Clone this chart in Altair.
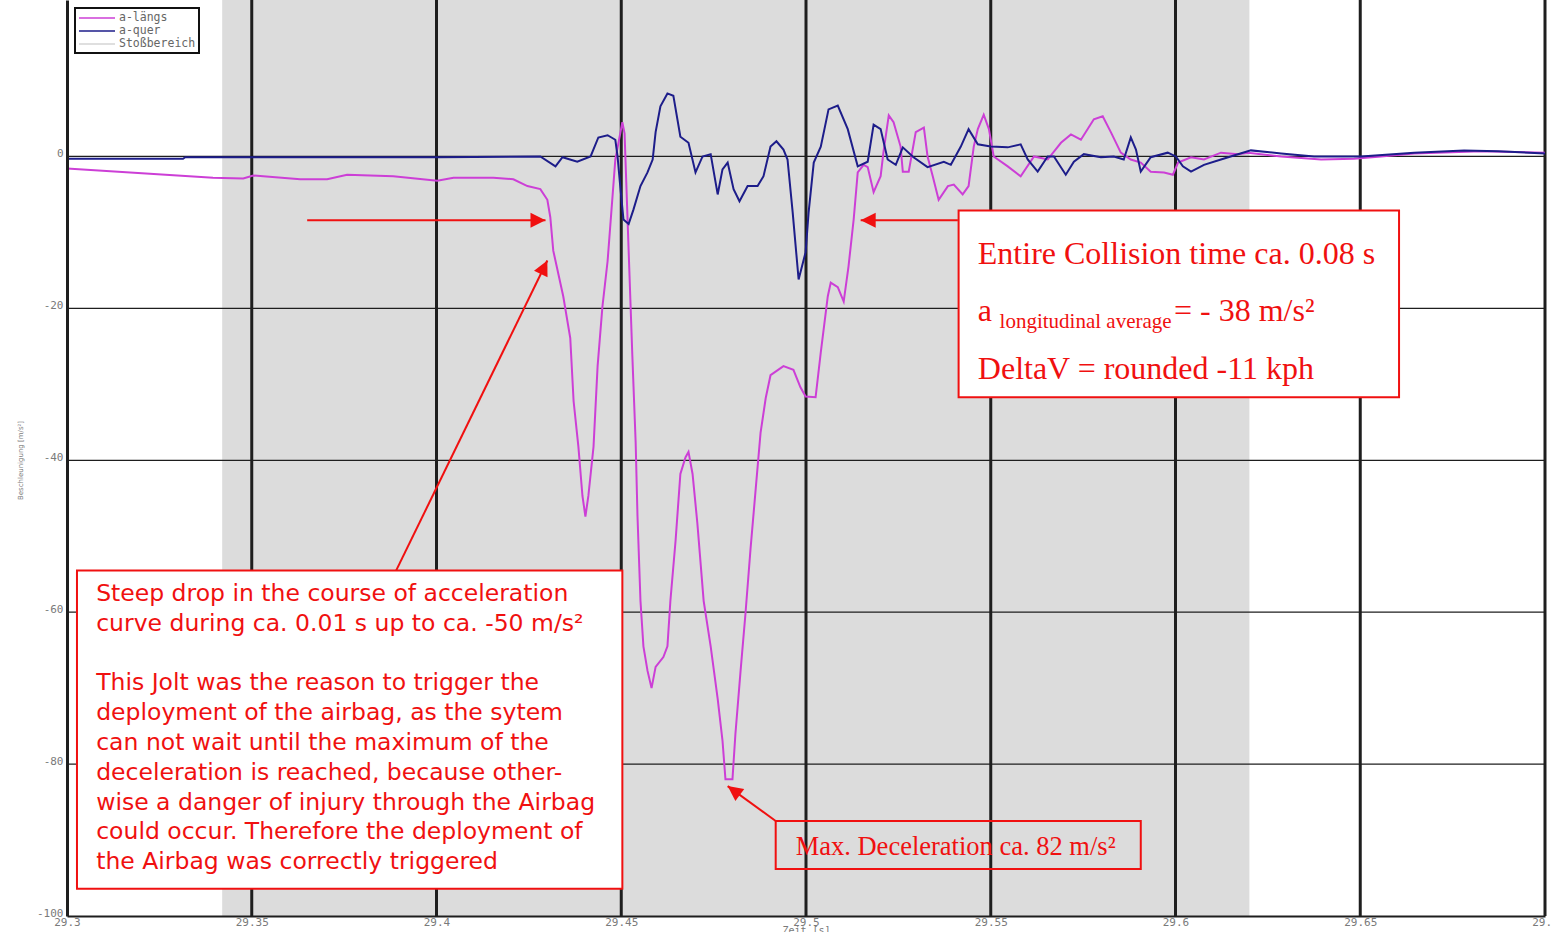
import math
import altair as alt
import pandas as pd

# ---------------------------------------------------------------- data
# a-längs: longitudinal acceleration [m/s²] over time [s]
t_laengs = [29.3000, 29.3395, 29.3477, 29.3504, 29.3631, 29.3704, 29.3758, 29.3883,
            29.4002, 29.4046, 29.4154, 29.4208, 29.4246, 29.4281, 29.4300, 29.4308,
            29.4316, 29.4343, 29.4362, 29.4371, 29.4384, 29.4395, 29.4403, 29.4411,
            29.4425, 29.4436, 29.4449, 29.4463, 29.4484, 29.4503, 29.4509, 29.4520,
            29.4530, 29.4539, 29.4544, 29.4552, 29.4560, 29.4571, 29.4582, 29.4593,
            29.4614, 29.4625, 29.4633, 29.4647, 29.4660, 29.4674, 29.4682, 29.4693,
            29.4706, 29.4723, 29.4742, 29.4761, 29.4774, 29.4782, 29.4801, 29.4809,
            29.4823, 29.4836, 29.4850, 29.4864, 29.4877, 29.4891, 29.4904, 29.4939,
            29.4966, 29.4985, 29.4999, 29.5026, 29.5040, 29.5059, 29.5067, 29.5086,
            29.5102, 29.5115, 29.5129, 29.5140, 29.5156, 29.5167, 29.5183, 29.5202,
            29.5210, 29.5224, 29.5237, 29.5256, 29.5262, 29.5278, 29.5297, 29.5319,
            29.5329, 29.5343, 29.5359, 29.5384, 29.5400, 29.5424, 29.5440, 29.5454,
            29.5465, 29.5481, 29.5495, 29.5508, 29.5546, 29.5581, 29.5617, 29.5654,
            29.5690, 29.5717, 29.5744, 29.5779, 29.5803, 29.5825, 29.5852, 29.5879,
            29.5906, 29.5933, 29.5969, 29.5993, 29.6007, 29.6042, 29.6077, 29.6123,
            29.6169, 29.6196, 29.6286, 29.6394, 29.6483, 29.6556, 29.6646, 29.6827,
            29.7000]
a_laengs = [-1.6, -2.8, -2.9, -2.5, -3.0, -3.0, -2.4, -2.6,
            -3.2, -2.8, -2.8, -3.0, -3.9, -4.3, -5.7, -8.0,
            -12.4, -18.4, -23.9, -32.2, -38.2, -44.7, -47.4, -44.7,
            -38.2, -27.6, -19.8, -13.8, -0.4, 4.5, 3.0, -12.4,
            -26.2, -37.7, -47.4, -58.5, -64.5, -67.7, -70.0, -67.2,
            -65.9, -64.5, -58.5, -50.6, -41.8, -39.6, -38.9, -41.8,
            -48.3, -58.5, -64.5, -71.4, -76.9, -82.0, -82.0, -76.0,
            -67.7, -60.3, -51.6, -43.7, -36.4, -31.8, -28.8, -27.6,
            -28.1, -30.4, -31.6, -31.7, -25.8, -18.4, -16.6, -17.2,
            -19.1, -14.5, -8.3, -2.1, -1.1, -1.4, -4.7, -2.6,
            0.7, 5.4, 4.5, 1.3, -2.0, -2.0, 3.2, 3.8,
            0.0, -2.6, -5.7, -3.9, -3.7, -5.0, -3.9, 1.3,
            3.6, 5.5, 3.6, 0.0, -1.3, -2.6, 0.0, -0.4,
            1.8, 2.9, 2.2, 4.9, 5.3, 3.2, 0.5, -0.4,
            -0.8, -2.0, -2.1, -2.4, -0.8, -0.1, -0.4, 0.5,
            0.3, 0.5, 0.0, -0.4, -0.3, 0.0, 0.4, 0.7,
            0.5]

# a-quer: lateral acceleration [m/s²] over time [s]
t_quer = [29.3000, 29.3314, 29.3320, 29.4002, 29.4281, 29.4322, 29.4341, 29.4381,
          29.4417, 29.4438, 29.4463, 29.4484, 29.4490, 29.4498, 29.4506, 29.4520,
          29.4533, 29.4552, 29.4571, 29.4585, 29.4593, 29.4606, 29.4625, 29.4641,
          29.4660, 29.4682, 29.4701, 29.4720, 29.4742, 29.4761, 29.4774, 29.4788,
          29.4804, 29.4820, 29.4842, 29.4869, 29.4885, 29.4904, 29.4920, 29.4939,
          29.4950, 29.4964, 29.4980, 29.4999, 29.5007, 29.5021, 29.5040, 29.5061,
          29.5086, 29.5113, 29.5140, 29.5167, 29.5183, 29.5202, 29.5221, 29.5243,
          29.5262, 29.5291, 29.5329, 29.5373, 29.5392, 29.5419, 29.5440, 29.5465,
          29.5500, 29.5546, 29.5581, 29.5600, 29.5627, 29.5654, 29.5671, 29.5703,
          29.5725, 29.5752, 29.5798, 29.5833, 29.5860, 29.5879, 29.5893, 29.5906,
          29.5933, 29.5979, 29.6001, 29.6020, 29.6042, 29.6077, 29.6123, 29.6169,
          29.6204, 29.6286, 29.6375, 29.6502, 29.6646, 29.6781, 29.6873, 29.7000]
a_quer = [-0.3, -0.3, -0.1, -0.1, 0.0, -1.3, -0.1, -0.7,
          0.0, 2.5, 2.8, 2.2, 0.0, -4.3, -8.3, -8.9,
          -7.0, -3.9, -2.1, -0.4, 3.2, 6.6, 8.3, 8.0,
          2.6, 1.8, -2.1, 0.0, 0.3, -5.0, -1.7, -0.8,
          -4.3, -5.9, -3.9, -3.9, -2.6, 1.3, 2.0, 0.9,
          -0.4, -7.4, -16.2, -12.6, -7.4, -0.8, 1.3, 6.2,
          6.7, 3.6, -1.3, -0.7, 4.2, 3.6, -0.4, -1.1,
          1.2, -0.1, -1.4, -0.7, -1.1, 1.3, 3.6, 1.6,
          1.3, 1.2, 1.6, -0.4, -2.0, 0.0, 0.0, -2.4,
          -0.7, 0.3, -0.1, 0.0, -0.4, 2.5, 0.9, -2.0,
          -0.1, 0.5, 0.0, -1.3, -2.0, -1.1, -0.4, 0.3,
          0.8, 0.4, 0.0, 0.0, 0.5, 0.8, 0.7, 0.4]

series_names = ["a-längs", "a-quer", "Stoßbereich"]
series_colors = ["#cc3fd6", "#1d1d8a", "#d4d4d4"]

# Stoßbereich (impact interval) [s]
impact_start = 29.342
impact_end = 29.62

x_ticks = [29.3, 29.35, 29.4, 29.45, 29.5, 29.55, 29.6, 29.65, 29.7]
y_ticks = [-100, -80, -60, -40, -20, 0]
x_domain = [29.3, 29.7]
y_domain = [-100, 20.6]

# Annotation boxes (time span, acceleration span)
box_t0 = [29.3027, 29.5413, 29.4918]
box_t1 = [29.4503, 29.6605, 29.5906]
box_v0 = [-54.5, -7.1, -87.5]
box_v1 = [-96.4, -31.7, -93.8]
box_filled = [True, True, False]

note_drop = ("Steep drop in the course of acceleration\n"
             "curve during ca. 0.01 s up to ca. -50 m/s²")
note_jolt = ("This Jolt was the reason to trigger the\n"
             "deployment of the airbag, as the sytem\n"
             "can not wait until the maximum of the\n"
             "deceleration is reached, because other-\n"
             "wise a danger of injury through the Airbag\n"
             "could occur. Therefore the deployment of\n"
             "the Airbag was correctly triggered")

# Arrows: tail (t, v) -> tip (t2, v2)
arrow_t = [29.3650, 29.5411, 29.3891, 29.4918]
arrow_v = [-8.4, -8.4, -54.5, -87.5]
arrow_t2 = [29.4295, 29.5148, 29.4300, 29.4788]
arrow_v2 = [-8.4, -8.4, -13.7, -82.9]

# ---------------------------------------------------------------- layout
W, H = 1478, 916
RED = "#f01010"
GRID = "#1e1e1e"
LABEL = "#7a7a7a"
SMALL_FONT = "DejaVu Sans Mono"

xs = alt.Scale(domain=x_domain, nice=False, zero=False)
ys = alt.Scale(domain=y_domain, nice=False, zero=False)

x_axis = alt.Axis(values=x_ticks, format="~g", grid=False, ticks=False,
                  labelFontSize=11, labelColor=LABEL, labelPadding=0,
                  labelFont=SMALL_FONT, labelFlush=False,
                  domainColor=GRID, domainWidth=2,
                  title="Zeit [s]", titleFontSize=10, titleColor=LABEL,
                  titleFont=SMALL_FONT, titleFontWeight="normal",
                  titlePadding=-2, zindex=1)
y_axis = alt.Axis(values=y_ticks, labelExpr="'' + datum.value", grid=False,
                  ticks=False, labelFontSize=11, labelColor=LABEL,
                  labelFont=SMALL_FONT, labelPadding=4, labelOffset=-3,
                  labelFlush=False, domainColor=GRID, domainWidth=3,
                  title="Beschleunigung [m/s²]", titleFontSize=7,
                  titleColor=LABEL, titleFont="DejaVu Sans",
                  titleFontWeight="normal", titleAngle=270,
                  titleBaseline="middle", titleAlign="center",
                  titleX=-47, titleY=460, zindex=1)


def X(field):
    return alt.X(field, type="quantitative", scale=xs, axis=x_axis)


def Y(field):
    return alt.Y(field, type="quantitative", scale=ys, axis=y_axis)


# impact interval band
band = alt.Chart(pd.DataFrame({"t": [impact_start], "t2": [impact_end],
                               "v": [y_domain[1]], "v2": [y_domain[0]]})).mark_rect(
    color="#dcdcdc").encode(x=X("t"), x2="t2", y=Y("v"), y2="v2")

# grid
vgrid = alt.Chart(pd.DataFrame({"t": x_ticks[1:]})).mark_rule(
    color=GRID, strokeWidth=3).encode(x=X("t"))
hgrid = alt.Chart(pd.DataFrame({"v": y_ticks[1:]})).mark_rule(
    color=GRID, strokeWidth=1.2).encode(y=Y("v"))

# acceleration curves
curves = pd.concat([
    pd.DataFrame({"t": t_laengs, "v": a_laengs, "series": "a-längs", "k": 0}),
    pd.DataFrame({"t": t_quer, "v": a_quer, "series": "a-quer", "k": 1}),
])
lines = alt.Chart(curves).mark_line(strokeWidth=2).encode(
    x=X("t"), y=Y("v"),
    color=alt.Color("series:N",
                    scale=alt.Scale(domain=series_names, range=series_colors),
                    legend=alt.Legend(title=None, orient="none", legendX=8,
                                      legendY=8, symbolType="M-3,0L3,0",
                                      symbolSize=144, symbolStrokeWidth=1.5,
                                      symbolOffset=12, labelOffset=15,
                                      labelFontSize=11.5, labelColor="#666",
                                      labelFont=SMALL_FONT,
                                      rowPadding=0, padding=3,
                                      strokeColor="#111", fillColor="white")),
    order="k:Q",
    detail="series:N",
)

# annotation boxes
boxes = pd.DataFrame({"t": box_t0, "t2": box_t1, "v": box_v0, "v2": box_v1,
                      "filled": box_filled})
box_fill = alt.Chart(boxes[boxes["filled"]]).mark_rect(
    fill="white", stroke=RED, strokeWidth=2).encode(
    x=X("t"), x2="t2", y=Y("v"), y2="v2")
box_open = alt.Chart(boxes[~boxes["filled"]]).mark_rect(
    fillOpacity=0, stroke=RED, strokeWidth=2).encode(
    x=X("t"), x2="t2", y=Y("v"), y2="v2")

# annotation texts
notes = pd.DataFrame({"t": [29.3079, 29.3079], "v": [-56.0, -67.8],
                      "s": [note_drop, note_jolt]})
notes_text = alt.Chart(notes).mark_text(
    align="left", baseline="top", font="DejaVu Sans", fontSize=23.5,
    lineHeight=29.8, lineBreak="\n", color=RED).encode(
    x=X("t"), y=Y("v"), text="s:N")

serif_big = pd.DataFrame({
    "t": [29.5465, 29.5465, 29.5996, 29.5465],
    "v": [-14.1, -21.6, -21.6, -29.3],
    "s": ["Entire Collision time ca. 0.08 s", "a", "= - 38 m/s²",
          "DeltaV = rounded -11 kph"],
})
summary_text = alt.Chart(serif_big).mark_text(
    align="left", baseline="alphabetic", font="Liberation Serif",
    fontSize=32, color=RED).encode(x=X("t"), y=Y("v"), text="s:N")
subscript_text = alt.Chart(pd.DataFrame({"t": [29.5524], "v": [-22.6],
                                         "s": ["longitudinal average"]})).mark_text(
    align="left", baseline="alphabetic", font="Liberation Serif",
    fontSize=21, color=RED).encode(x=X("t"), y=Y("v"), text="s:N")
max_text = alt.Chart(pd.DataFrame({"t": [29.4972], "v": [-92.0],
                                   "s": ["Max. Deceleration ca. 82 m/s²"]})).mark_text(
    align="left", baseline="alphabetic", font="Liberation Serif",
    fontSize=26.5, color=RED).encode(x=X("t"), y=Y("v"), text="s:N")

# arrows: shaft plus a head rotated along the shaft in screen space
kx = W / (x_domain[1] - x_domain[0])
ky = H / (y_domain[1] - y_domain[0])
arrows = pd.DataFrame({"t": arrow_t, "v": arrow_v, "t2": arrow_t2, "v2": arrow_v2})
arrows["angle"] = [
    math.degrees(math.atan2((b - a) * kx, (d - c) * ky)) % 360
    for a, b, c, d in zip(arrows["t"], arrows["t2"], arrows["v"], arrows["v2"])
]
shafts = alt.Chart(arrows).mark_rule(color=RED, strokeWidth=2).encode(
    x=X("t"), x2="t2", y=Y("v"), y2="v2")
heads = alt.Chart(arrows).mark_point(
    shape="M0,0 L-0.5,1 L0.5,1 Z", filled=True, color=RED, opacity=1,
    size=900).encode(x=X("t2"), y=Y("v2"), angle=alt.Angle("angle:Q", scale=None))

chart = alt.layer(
    band, vgrid, hgrid, lines, box_fill, box_open,
    notes_text, summary_text, subscript_text, max_text, shafts, heads,
).properties(
    width=W, height=H,
    autosize=alt.AutoSizeParams(type="none"),
    padding={"left": 67, "top": 0, "right": 6, "bottom": 16},
    background="white",
).configure_view(stroke=None).configure_legend(strokeWidth=2)

chart.save("out.html", embed_options={"renderer": "svg", "actions": False})
